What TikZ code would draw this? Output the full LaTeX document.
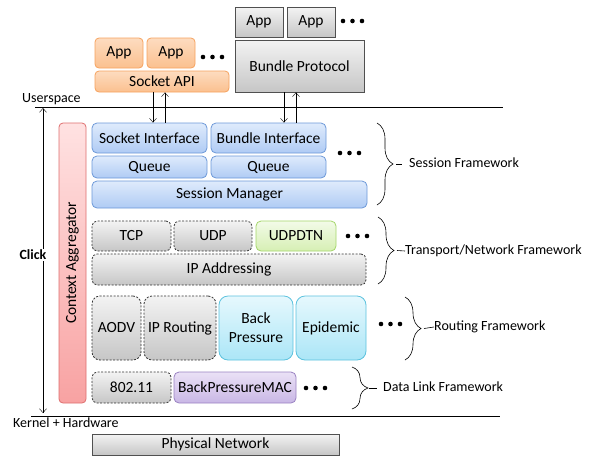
\documentclass[tikz,border=0pt]{standalone}
\usepackage{fontspec}
\setmainfont{Carlito}
\usetikzlibrary{decorations.pathreplacing,arrows.meta}

\definecolor{ortop}{HTML}{FDDCC0}
\definecolor{orbot}{HTML}{FBC08F}
\definecolor{ordraw}{HTML}{F6A25E}
\definecolor{bltop}{HTML}{DFEBFC}
\definecolor{blbot}{HTML}{AFCBF4}
\definecolor{bldraw}{HTML}{6C98D8}
\definecolor{grtop}{HTML}{F3F3F3}
\definecolor{grbot}{HTML}{C6C6C6}
\definecolor{grdraw}{HTML}{505050}
\definecolor{gntop}{HTML}{F3FBE8}
\definecolor{gnbot}{HTML}{D6EFB4}
\definecolor{gndraw}{HTML}{A4D66A}
\definecolor{cytop}{HTML}{E6F8FD}
\definecolor{cybot}{HTML}{ABE6F7}
\definecolor{cydraw}{HTML}{5CC2DE}
\definecolor{putop}{HTML}{EAE1F6}
\definecolor{pubot}{HTML}{C9B7E5}
\definecolor{pudraw}{HTML}{9A82C2}
\definecolor{rdtop}{HTML}{FFE2E2}
\definecolor{rdbot}{HTML}{F8A2A2}
\definecolor{rddraw}{HTML}{DE6E6E}

\newcommand{\threedots}[2]{\foreach \i in {0,1,2} \fill (#1+9.5*\i,#2) circle[radius=2.3pt];}

\begin{document}
\begin{tikzpicture}[x=1pt,y=-1pt,
    >={Straight Barb[length=4pt,width=7pt]},
    box/.style={draw,line width=0.8pt,inner sep=0pt,align=center,
      font=\fontsize{15.5}{19}\selectfont},
    orbox/.style={box,rounded corners=4pt,draw=ordraw,top color=ortop,bottom color=orbot},
    blbox/.style={box,rounded corners=5pt,draw=bldraw,top color=bltop,bottom color=blbot},
    grbox/.style={box,draw=grdraw,top color=grtop,bottom color=grbot},
    dgbox/.style={grbox,rounded corners=5pt,dash pattern=on 2pt off 1.5pt,draw=black!80},
    gnbox/.style={box,rounded corners=5pt,draw=gndraw,top color=gntop,bottom color=gnbot},
    cybox/.style={box,rounded corners=9pt,draw=cydraw,top color=cytop,bottom color=cybot},
    pubox/.style={box,rounded corners=5pt,draw=pudraw,top color=putop,bottom color=pubot},
    lbl/.style={inner sep=0pt,font=\fontsize{14}{16}\selectfont},
    brc/.style={decorate,decoration={brace,amplitude=16pt},semithick}]
  \useasboundingbox (0,0) rectangle (592,456);

  % user space
  \node[orbox,minimum width=48,minimum height=30] (app1) at (119,53) {App};
  \node[orbox,minimum width=48,minimum height=30] (app2) at (171,53) {App};
  \threedots{203}{57}
  \node[orbox,minimum width=134,minimum height=21] (sapi) at (162,81.5) {Socket API};
  \node[grbox,minimum width=48,minimum height=30] (gapp1) at (259,22) {App};
  \node[grbox,minimum width=48,minimum height=30] (gapp2) at (311,22) {App};
  \threedots{343}{21}
  \node[grbox,minimum width=129,minimum height=52] (bp) at (299.5,66) {Bundle Protocol};

  \coordinate (usl) at (35,107); \coordinate (usr) at (503,107);
  \draw[semithick] (usl) -- (usr);
  \node[lbl,anchor=south west] (us) at (22,105) {Userspace};

  % click
  \node[rounded corners=4pt,draw=rddraw,line width=0.8pt,top color=rdtop,bottom color=rdbot,
    minimum width=27,minimum height=280,inner sep=0pt] (ctx) at (72.5,263) {};
  \node[rotate=90,font=\fontsize{15.5}{19}\selectfont,inner sep=0pt] (ctxt) at (ctx.center) {Context Aggregator};

  % session
  \node[blbox,minimum width=115,minimum height=30] (sif) at (149.5,138) {Socket Interface};
  \node[blbox,minimum width=115,minimum height=30] (bif) at (268.5,138) {Bundle Interface};
  \threedots{340}{153}
  \node[blbox,minimum width=115,minimum height=22] (q1) at (149.5,167) {Queue};
  \node[blbox,minimum width=115,minimum height=22] (q2) at (268.5,167) {Queue};
  \node[blbox,minimum width=275,minimum height=27] (sm) at (229.5,194.5) {Session Manager};

  \draw[->] ([xshift=-9pt]sapi.south) -- ([xshift=-9pt]sapi.south |- sif.north);
  \draw[<-] ([xshift=3pt]sapi.south) -- ([xshift=3pt]sapi.south |- sif.north);
  \draw[->] ([xshift=-15.5pt]bp.south) -- ([xshift=-15.5pt]bp.south |- bif.north);
  \draw[<-] ([xshift=-3.5pt]bp.south) -- ([xshift=-3.5pt]bp.south |- bif.north);

  % transport / network
  \node[dgbox,minimum width=79,minimum height=30] (tcp) at (131.5,236) {TCP};
  \node[dgbox,minimum width=78,minimum height=30] (udp) at (213,236) {UDP};
  \node[gnbox,minimum width=80,minimum height=30] (udpdtn) at (296,236) {UDPDTN};
  \threedots{348}{236}
  \node[dgbox,minimum width=274,minimum height=31] (ipa) at (229,269.5) {IP Addressing};

  % routing
  \node[dgbox,rounded corners=8pt,minimum width=49,minimum height=64] (aodv) at (116.5,328) {AODV};
  \node[dgbox,rounded corners=8pt,minimum width=72,minimum height=64] (iprt) at (180,328) {IP Routing};
  \node[cybox,minimum width=74,minimum height=64] (bpr) at (256,328) {Back\\Pressure};
  \node[cybox,minimum width=70,minimum height=64] (epi) at (331,328) {Epidemic};
  \threedots{381}{324}

  % data link
  \node[dgbox,minimum width=79,minimum height=31] (wifi) at (131.5,387.5) {802.11};
  \node[pubox,minimum width=122,minimum height=31] (bpmac) at (235,387.5) {BackPressureMAC};
  \threedots{306}{388}

  \coordinate (khl) at (31,416); \coordinate (khr) at (500,416);
  \draw[semithick] (khl) -- (khr);
  \node[lbl,anchor=north west] (kh) at (13,418) {Kernel + Hardware};
  \node[grbox,minimum width=247,minimum height=21] (phy) at (215.5,444.5) {Physical Network};

  \coordinate (ctop) at (43,108); \coordinate (cbot) at (43,413);
  \draw[<->] (ctop) -- (cbot);
  \node[fill=white,inner sep=1pt,font=\bfseries\fontsize{14}{16}\selectfont] (click) at (33,255) {Click};

  % frameworks
  \draw[brc] (377,123) -- coordinate[xshift=19pt] (sbt) (377,205);
  \node[lbl,anchor=west] (sfw) at (409,163) {Session Framework};
  \draw[semithick] (sbt) -- ++(6,0);
  \draw[brc] (378,217) -- coordinate[xshift=19pt] (tbt) (378,284);
  \node[lbl,anchor=west] (tfw) at (405,251) {Transport/Network Framework};
  \draw[semithick] (tbt) -- (tfw.west);
  \draw[brc] (405,297) -- coordinate[xshift=19pt] (rbt) (405,360);
  \node[lbl,anchor=west] (rfw) at (434,327) {Routing Framework};
  \draw[semithick] (rbt) -- (rfw.west);
  \draw[brc] (352,367) -- coordinate[xshift=17pt] (dbt) (352,409);
  \node[lbl,anchor=west] (dfw) at (383,387) {Data Link Framework};
  \draw[semithick] (dbt) -- ++(8,0);
\end{tikzpicture}
\end{document}
